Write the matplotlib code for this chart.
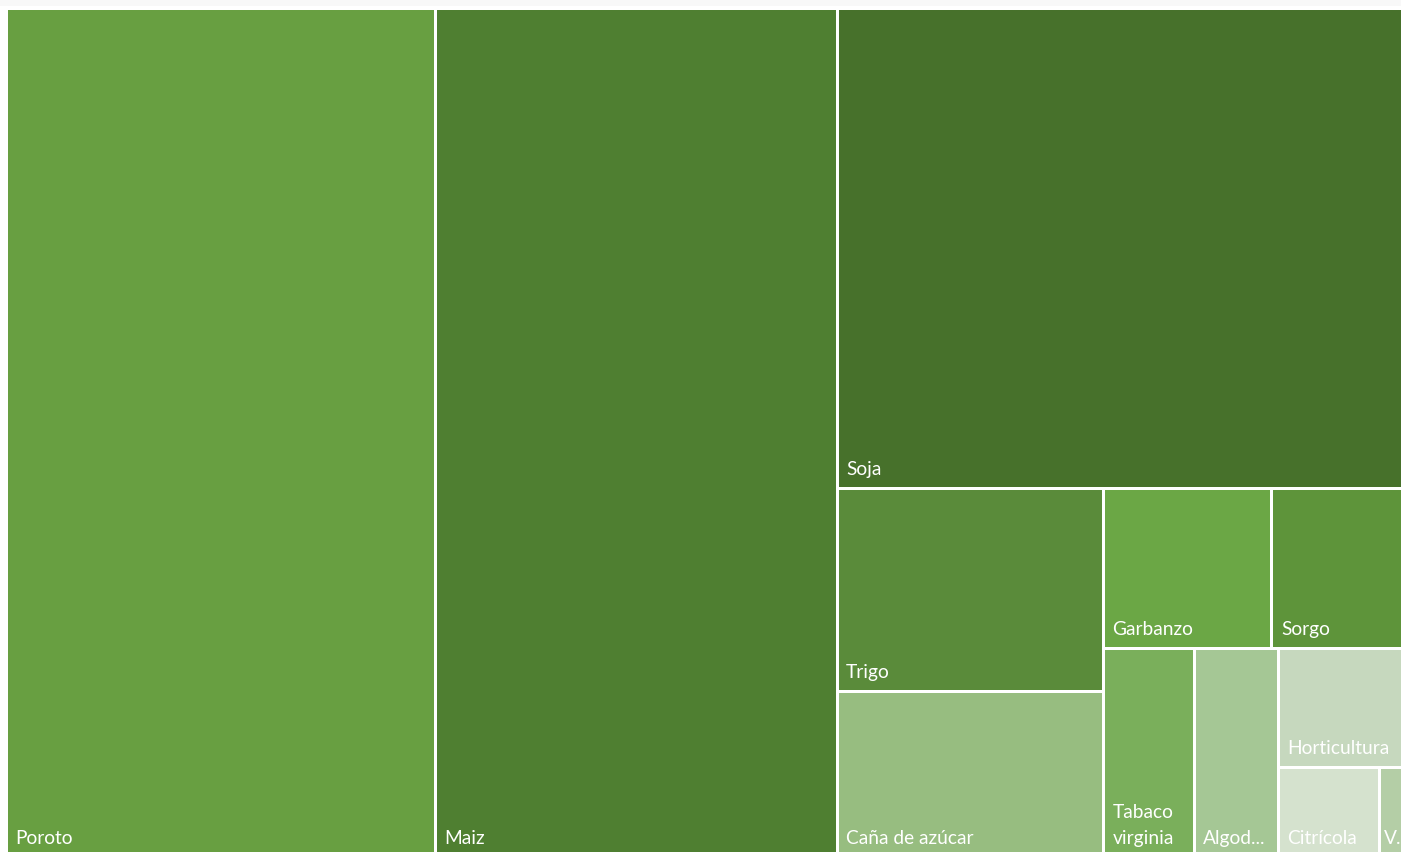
import matplotlib
matplotlib.use('Agg')
import matplotlib.pyplot as plt
from matplotlib.patches import Rectangle

# superficie por cultivo (proporcionales al area)
cultivos = ['Poroto', 'Maiz', 'Soja', 'Trigo', 'Caña de azúcar', 'Garbanzo', 'Sorgo',
            'Tabaco virginia', 'Algodón', 'Horticultura', 'Citrícola', 'Vid']
superficie = [364.9, 341.2, 273.0, 54.0, 44.3, 27.0, 21.4, 19.0, 17.6, 15.2, 9.1, 2.3]
colores = ['#689f41', '#4f7f31', '#47712b', '#5a8b3a', '#97bd80', '#6ba745', '#5e943a',
           '#7aaf5b', '#a5c795', '#c6d8be', '#d5e2ce', '#b4cea6']

FUENTE = 'Lato'
TAM = 13.8
INTERLINEA = 26


def squarify(vals, x, y, w, h, rho=0.8):
    # tiras a lo largo del lado corto, se agregan elementos mientras mejora la proporcion
    rects = []
    i = 0
    while i < len(vals):
        k = w * h / sum(vals[i:])
        u = min(w, h)

        def score(row):
            t = sum(row) * k / u
            return max(max(rho * (v * k / t) / t, t / (rho * (v * k / t))) for v in row)

        j = i + 1
        best = score(vals[i:j])
        while j < len(vals):
            sc = score(vals[i:j + 1])
            if sc > best:
                break
            best = sc
            j += 1
        row = vals[i:j]
        t = sum(row) * k / u
        pos = 0
        for v in row:
            L = v * k / t
            if w >= h:
                rects.append((x, y + pos, t, L))
            else:
                rects.append((x + pos, y, L, t))
            pos += L
        if w >= h:
            x += t
            w -= t
        else:
            y += t
            h -= t
        i = j
    return rects


fig = plt.figure(figsize=(14.01, 8.53), dpi=100)
ax = fig.add_axes([0, 0, 1, 1])
ax.set_xlim(0, 1401)
ax.set_ylim(853, 0)
ax.axis('off')
fig.patch.set_facecolor('white')

# franja gris superior
ax.add_patch(Rectangle((0, 0), 1401, 7, facecolor='#f8f8f8', edgecolor='none'))

fig.canvas.draw()
renderer = fig.canvas.get_renderer()


def ancho(s):
    t = ax.text(0, 0, s, fontsize=TAM, family=FUENTE)
    bb = t.get_window_extent(renderer)
    t.remove()
    return bb.width


def ajustar(nombre, disp, alto):
    if ancho(nombre) <= disp:
        return [nombre]
    palabras = nombre.split()
    if len(palabras) > 1 and alto > len(palabras) * INTERLINEA + 20:
        lineas = [palabras[0]]
        for p in palabras[1:]:
            if ancho(lineas[-1] + ' ' + p) <= disp:
                lineas[-1] += ' ' + p
            else:
                lineas.append(p)
        if all(ancho(l) <= disp for l in lineas):
            return lineas
    for n in range(len(nombre) - 1, 0, -1):
        s = nombre[:n].rstrip() + '...'
        if ancho(s) <= disp:
            return [s]
    return [nombre[0] + '...']


rects = squarify(superficie, 5.5, 8.5, 1399.5, 849.5)
for nombre, color, (x, y, w, h) in zip(cultivos, colores, rects):
    ax.add_patch(Rectangle((x, y), w, h, facecolor=color, edgecolor='white', linewidth=2.16))
    lineas = ajustar(nombre, w - 18, h)
    pad = 9.5 if w > 40 else 5
    base = y + h - 14
    for n, linea in enumerate(reversed(lineas)):
        ax.text(x + pad, base - n * INTERLINEA, linea, color='white', fontsize=TAM,
                family=FUENTE, va='baseline', ha='left')

fig.savefig('out.png', dpi=100)
